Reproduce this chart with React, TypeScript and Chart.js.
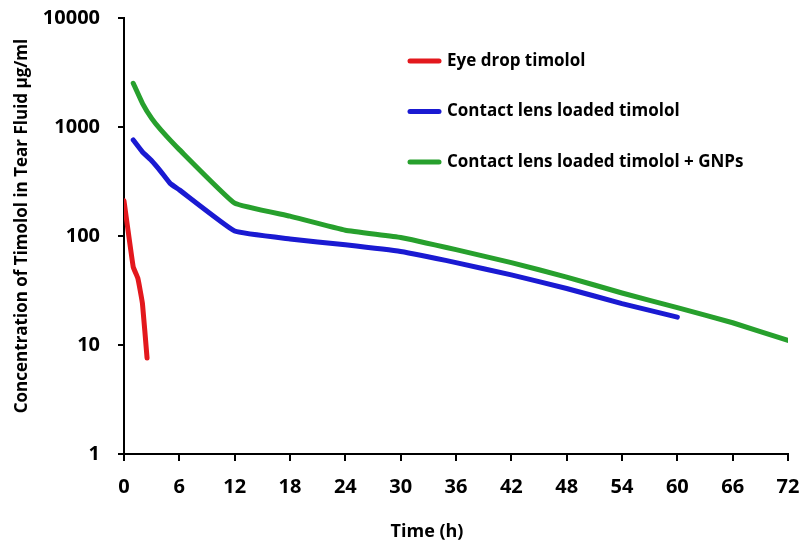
import React, { useEffect, useRef } from 'react';
import { Chart, registerables } from 'chart.js';

Chart.register(...registerables);

const seriesLabels = [
  'Eye drop timolol',
  'Contact lens loaded timolol',
  'Contact lens loaded timolol + GNPs',
];
const seriesColors = ['#e3181d', '#1a1ad2', '#27a02d'];

const eyeDropTime = [0, 1, 1.5, 2, 2.5];
const eyeDropConc = [210, 52, 41, 24, 7.6];

const lensTime = [1, 2, 3, 4, 5, 6, 12, 18, 24, 30, 36, 42, 48, 54, 60];
const lensConc = [760, 590, 490, 390, 304, 265, 111, 94, 83, 72, 57, 44, 33, 24, 18];

const gnpTime = [1, 2, 3, 4, 6, 12, 18, 24, 30, 36, 42, 48, 54, 60, 66, 72];
const gnpConc = [2520, 1650, 1200, 940, 620, 200, 152, 113, 97, 75, 57, 42, 30, 22, 16, 11];

const xTicks = [0, 6, 12, 18, 24, 30, 36, 42, 48, 54, 60, 66, 72];
const yTicks = [1, 10, 100, 1000, 10000];

const xTitle = 'Time (h)';
const yTitle = 'Concentration of Timolol in Tear Fluid µg/ml';

const FONT = '"Open Sans"';

const toPoints = (xs: number[], ys: number[]) => xs.map((x, i) => ({ x, y: ys[i] }));

const insideLegend = {
  id: 'insideLegend',
  afterDraw(chart: any) {
    const ctx = chart.ctx;
    chart.data.datasets.forEach((ds: any, i: number) => {
      const y = 61 + i * 50.5;
      ctx.save();
      ctx.strokeStyle = ds.borderColor;
      ctx.lineWidth = 5;
      ctx.lineCap = 'round';
      ctx.beginPath();
      ctx.moveTo(410, y);
      ctx.lineTo(439, y);
      ctx.stroke();
      ctx.fillStyle = '#000';
      ctx.font = `bold 17px ${FONT}`;
      ctx.textBaseline = 'middle';
      ctx.textAlign = 'left';
      ctx.fillText(ds.label, 447, y);
      ctx.restore();
    });
  },
};

const axisTitles = {
  id: 'axisTitles',
  afterDraw(chart: any) {
    const ctx = chart.ctx;
    ctx.save();
    ctx.fillStyle = '#000';
    ctx.textAlign = 'center';
    ctx.textBaseline = 'alphabetic';
    ctx.font = `bold 18px ${FONT}`;
    ctx.fillText(xTitle, 427, 537);
    ctx.translate(27, 226);
    ctx.rotate(-Math.PI / 2);
    ctx.font = `bold 17px ${FONT}`;
    ctx.fillText(yTitle, 0, 0);
    ctx.restore();
  },
};

export default function App() {
  const ref = useRef<HTMLCanvasElement | null>(null);

  useEffect(() => {
    document.body.style.margin = '0';
    if (!ref.current) return;
    const data = [
      toPoints(eyeDropTime, eyeDropConc),
      toPoints(lensTime, lensConc),
      toPoints(gnpTime, gnpConc),
    ];
    const chart = new Chart(ref.current, {
      type: 'line',
      data: {
        datasets: data.map((d, i) => ({
          label: seriesLabels[i],
          data: d,
          borderColor: seriesColors[i],
          backgroundColor: seriesColors[i],
          borderWidth: 5,
          pointRadius: 0,
          tension: 0.1,
          borderCapStyle: 'round' as const,
          borderJoinStyle: 'round' as const,
        })),
      },
      options: {
        animation: false,
        responsive: false,
        layout: { padding: { top: 18, right: 12, left: 0, bottom: 0 } },
        plugins: {
          legend: { display: false },
          tooltip: { enabled: false },
        },
        scales: {
          x: {
            type: 'linear',
            min: 0,
            max: 72,
            afterBuildTicks: (s: any) => {
              s.ticks = xTicks.map((v) => ({ value: v }));
            },
            afterFit: (s: any) => {
              s.height = 92;
              s.paddingLeft = 0;
              s.paddingRight = 0;
            },
            grid: {
              drawOnChartArea: false,
              color: '#000',
              lineWidth: 2,
              tickLength: 7,
            },
            border: { display: true, color: '#000', width: 2 },
            ticks: {
              color: '#000',
              padding: 14,
              maxRotation: 0,
              autoSkip: false,
              font: { family: FONT, size: 20, weight: 'bold' },
            },
          },
          y: {
            type: 'logarithmic',
            min: 1,
            max: 10000,
            afterBuildTicks: (s: any) => {
              s.ticks = yTicks.map((v) => ({ value: v }));
            },
            afterFit: (s: any) => {
              s.width = 124;
              s.paddingTop = 0;
              s.paddingBottom = 0;
            },
            grid: {
              drawOnChartArea: false,
              color: '#000',
              lineWidth: 2,
              tickLength: 6,
            },
            border: { display: true, color: '#000', width: 2 },
            ticks: {
              color: '#000',
              padding: 18,
              autoSkip: false,
              callback: (v: any) => String(v),
              font: { family: FONT, size: 20, weight: 'bold' },
            },
          },
        },
      },
      plugins: [insideLegend, axisTitles],
    });
    return () => chart.destroy();
  }, []);

  return (
    <div style={{ width: 800, height: 546 }}>
      <canvas ref={ref} width={800} height={546} />
    </div>
  );
}
